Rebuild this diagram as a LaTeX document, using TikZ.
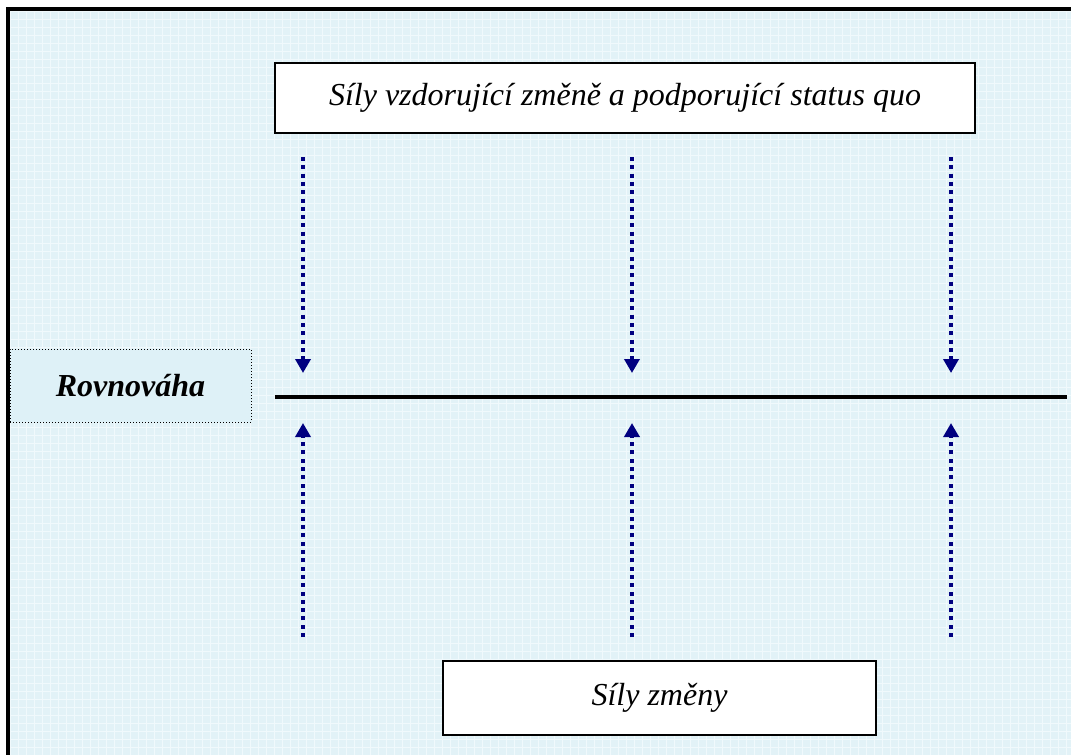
\documentclass[tikz,border=0pt]{standalone}
\usepackage{fontspec}
\setmainfont{Liberation Serif}
\usetikzlibrary{arrows.meta}
\definecolor{paper}{RGB}{226,242,247}
\definecolor{gridline}{RGB}{240,249,252}
\definecolor{forcecol}{RGB}{0,0,128}
\definecolor{labelfill}{RGB}{222,241,247}
\tikzset{
  textbox/.style={draw=black, line width=1.5pt, fill=white, inner sep=0pt},
  statebox/.style={draw=black, line width=1pt, dotted, fill=labelfill, inner sep=0pt},
  force/.style={draw=forcecol, line width=4pt, dash pattern=on 4pt off 4.3pt,
    -{Triangle[width=15pt,length=14pt]}},
  bigtext/.style={font=\fontsize{32}{38}\selectfont\itshape}
}
\begin{document}
\begin{tikzpicture}[x=1pt,y=-1pt]
  \useasboundingbox (0,0) rectangle (1071,755);
  \fill[white] (0,0) rectangle (1071,755);
  % patterned backdrop
  \fill[paper] (6,7) rectangle (1071,755);
  \begin{scope}
    \clip (10,11) rectangle (1071,755);
    \foreach \k in {0,...,134} {
      \draw[gridline, line width=1pt] (10+8*\k,11) -- (10+8*\k,755);
    }
    \foreach \k in {0,...,93} {
      \draw[gridline, line width=1pt] (10,11+8*\k) -- (1071,11+8*\k);
    }
  \end{scope}
  % frame on the left and top
  \draw[line width=4pt] (8,755) -- (8,9) -- (1071,9);

  % boxes
  \node[textbox, bigtext, minimum width=700pt, minimum height=70pt] (resist) at (625,98)
    {Síly vzdorující změně a podporující status quo};
  \node[textbox, bigtext, minimum width=433pt, minimum height=74pt] (change) at (659.5,698)
    {Síly změny};
  \node[statebox, bigtext, minimum width=241pt, minimum height=73pt] (balance) at (130.5,385.5)
    {\bfseries Rovnováha};

  % equilibrium line
  \coordinate (eqL) at (275,397);
  \coordinate (eqR) at (1067,397);
  \draw[line width=4.5pt] (eqL) -- (eqR);

  % forces from above and below
  \foreach \n/\x in {a/303, b/632, c/951} {
    \coordinate (top\n) at (\x,157);
    \coordinate (tip\n) at (\x,373);
    \coordinate (bot\n) at (\x,637);
    \coordinate (btip\n) at (\x,423);
    \draw[force] (top\n) -- (tip\n);
    \draw[force] (bot\n) -- (btip\n);
  }
\end{tikzpicture}
\end{document}
